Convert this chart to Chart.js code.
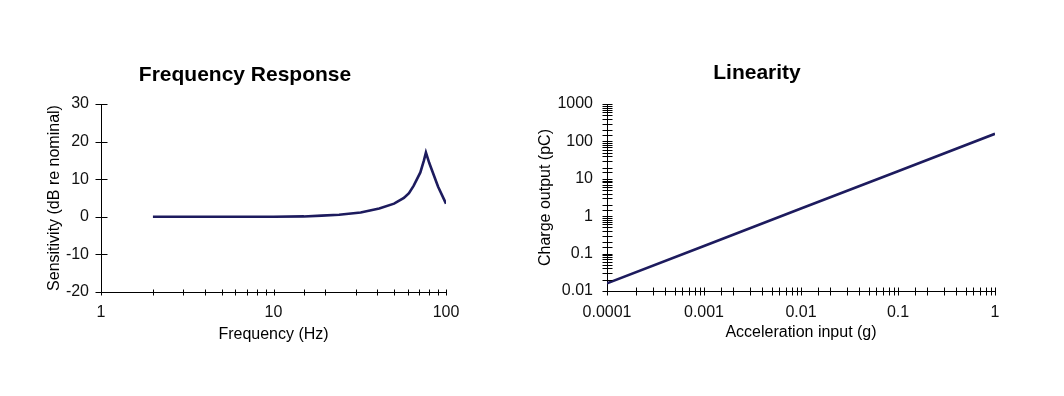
<!DOCTYPE html>
<html>
<head>
<meta charset="utf-8">
<title>Frequency Response / Linearity</title>
<script src="https://cdn.jsdelivr.net/npm/chart.js@4/dist/chart.umd.min.js"></script>
<style>
    html, body { margin: 0; padding: 0; background: #fff; }
    body { width: 1064px; height: 396px; position: relative; overflow: hidden; }
    canvas { position: absolute; }
    #freqChart { left: 44px; top: 51px; }
    #linChart { left: 519px; top: 50px; }
</style>
</head>
<body>
<canvas id="freqChart" width="416" height="300"></canvas>
<canvas id="linChart" width="486" height="300"></canvas>
<script>
// data
const freqHz = [2, 5, 10, 15, 19, 24, 32, 41, 50, 57, 61, 65, 71, 74.5, 76.5, 80, 90, 100];
const sensitivityDb = [0, 0, 0, 0.1, 0.3, 0.55, 1.15, 2.2, 3.5, 5.0, 6.3, 8.3, 11.8, 15.0, 17.1, 14.3, 8.0, 3.5];
const freqTicks = [1, 10, 100];
const sensTicks = [-20, -10, 0, 10, 20, 30];

const accelG = [0.0001, 0.001, 0.01, 0.1, 1];
const chargePc = [0.016, 0.16, 1.6, 16, 160];
const accelTicks = [0.0001, 0.001, 0.01, 0.1, 1];
const chargeTicks = [0.01, 0.1, 1, 10, 100, 1000];

const FONT = "'Liberation Sans', Arial, sans-serif";
const LINE_COLOR = '#1d1b5e';

// tick marks crossing the axis line, drawn from the scale's own ticks
const crossTicks = {
    id: 'crossTicks',
    afterDatasetsDraw(chart, args, opts) {
        const ctx = chart.ctx;
        ctx.save();
        ctx.strokeStyle = '#000';
        ctx.lineWidth = 1;
        Object.keys(opts.sizes || {}).forEach(id => {
            const scale = chart.scales[id];
            const s = opts.sizes[id];
            scale.ticks.forEach(t => {
                const p = Math.round(scale.getPixelForValue(t.value)) + 0.5;
                ctx.beginPath();
                if (scale.isHorizontal()) {
                    const y = Math.round(scale.top) + 0.5;
                    ctx.moveTo(p, y - s.inner);
                    ctx.lineTo(p, y + s.outer);
                } else {
                    const x = Math.round(scale.right) + 0.5;
                    ctx.moveTo(x - s.outer, p);
                    ctx.lineTo(x + s.inner, p);
                }
                ctx.stroke();
            });
        });
        ctx.restore();
    }
};

function isDecade(v) {
    const l = Math.log10(v);
    return Math.abs(l - Math.round(l)) < 1e-6;
}

function pinWidth(w) {
    return scale => { scale.width = w; scale.paddingTop = 0; scale.paddingBottom = 0; };
}
function pinHeight(h) {
    return scale => { scale.height = h; scale.paddingLeft = 0; scale.paddingRight = 0; };
}

function axisFont(size) {
    return { family: FONT, size: size };
}

function makeChart(el, cfg) {
    return new Chart(el, {
        type: 'line',
        data: {
            datasets: [{
                data: cfg.xs.map((x, i) => ({ x: x, y: cfg.ys[i] })),
                borderColor: LINE_COLOR,
                borderWidth: 2.6,
                pointRadius: 0,
                tension: 0,
                fill: false
            }]
        },
        options: {
            responsive: false,
            animation: false,
            events: [],
            layout: { padding: cfg.padding },
            plugins: {
                legend: { display: false },
                tooltip: { enabled: false },
                title: {
                    display: true,
                    text: cfg.title,
                    color: '#000',
                    font: { family: FONT, size: 21, weight: 'bold' },
                    padding: cfg.titlePad
                },
                crossTicks: { sizes: cfg.tickSizes }
            },
            scales: {
                x: Object.assign({
                    position: 'bottom',
                    grid: { display: false, drawTicks: false },
                    border: { display: true, color: '#000', width: 1 },
                    title: { display: true, text: cfg.xTitle, color: '#000', font: axisFont(16), padding: { top: 0, bottom: cfg.xTitlePad } },
                    afterFit: pinHeight(55)
                }, cfg.xScale),
                y: Object.assign({
                    position: 'left',
                    grid: { display: false, drawTicks: false },
                    border: { display: true, color: '#000', width: 1 },
                    title: { display: true, text: cfg.yTitle, color: '#000', font: axisFont(16), padding: { top: cfg.yTitlePad, bottom: 0 } },
                    afterFit: pinWidth(cfg.yWidth)
                }, cfg.yScale)
            }
        },
        plugins: [crossTicks]
    });
}

document.addEventListener('DOMContentLoaded', () => {

    // 1. Frequency Response
    makeChart(document.getElementById('freqChart'), {
        xs: freqHz,
        ys: sensitivityDb,
        title: 'Frequency Response',
        titlePad: { top: 12, bottom: 15.8 },
        padding: { left: 0, right: 14, top: 0, bottom: 4 },
        xTitle: 'Frequency (Hz)',
        yTitle: 'Sensitivity (dB re nominal)',
        xTitlePad: 2.4,
        yTitlePad: 1.4,
        yWidth: 57,
        tickSizes: { x: { inner: 3, outer: 3 }, y: { inner: 6, outer: 6 } },
        xScale: {
            type: 'logarithmic',
            min: freqTicks[0],
            max: freqTicks[freqTicks.length - 1],
            ticks: {
                autoSkip: false, maxRotation: 0, padding: 11, color: '#111', font: axisFont(16),
                callback: v => (freqTicks.includes(v) ? String(v) : '')
            }
        },
        yScale: {
            type: 'linear',
            min: sensTicks[0],
            max: sensTicks[sensTicks.length - 1],
            ticks: { stepSize: 10, padding: 12, color: '#111', font: axisFont(16), callback: v => String(v) }
        }
    });

    // 2. Linearity
    makeChart(document.getElementById('linChart'), {
        xs: accelG,
        ys: chargePc,
        title: 'Linearity',
        titlePad: { top: 10.4, bottom: 18.4 },
        padding: { left: 0, right: 10, top: 0, bottom: 4 },
        xTitle: 'Acceleration input (g)',
        yTitle: 'Charge output (pC)',
        xTitlePad: 3.4,
        yTitlePad: 17.4,
        yWidth: 88,
        tickSizes: { x: { inner: 4, outer: 4 }, y: { inner: 5, outer: 5 } },
        xScale: {
            type: 'logarithmic',
            min: accelTicks[0],
            max: accelTicks[accelTicks.length - 1],
            ticks: {
                autoSkip: false, maxRotation: 0, padding: 12, color: '#111', font: axisFont(16),
                callback: v => (isDecade(v) ? String(v) : '')
            }
        },
        yScale: {
            type: 'logarithmic',
            min: chargeTicks[0],
            max: chargeTicks[chargeTicks.length - 1],
            ticks: {
                autoSkip: false, padding: 14, color: '#111', font: axisFont(16),
                callback: v => (isDecade(v) ? String(v) : '')
            }
        }
    });
});
</script>
</body>
</html>
